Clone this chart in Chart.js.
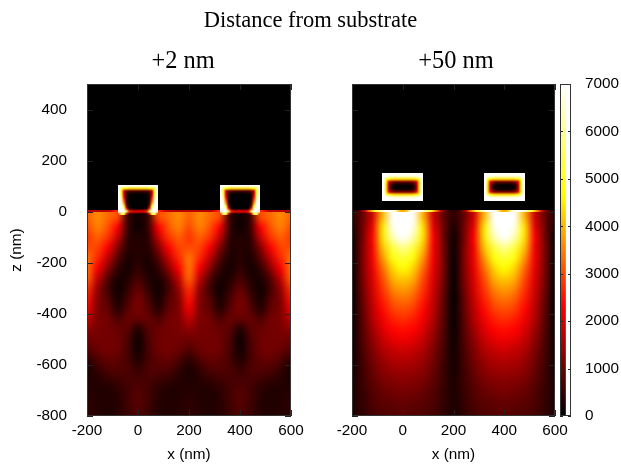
<!DOCTYPE html>
<html>
<head>
<meta charset="utf-8">
<title>Distance from substrate</title>
<script src="https://cdn.jsdelivr.net/npm/chart.js@4/dist/chart.umd.min.js"></script>
<style>
  html, body { margin: 0; padding: 0; background: #fff; overflow: hidden; }
  #page { position: relative; width: 621px; height: 464px; overflow: hidden; }
  #page canvas { position: absolute; top: 0; }
  .heading { position: absolute; text-align: center; color: #000; font-family: "Liberation Serif", serif; white-space: nowrap; }
  #mainTitle { left: 0; top: 7px; width: 621px; font-size: 22.5px; line-height: 26px; }
  #subLeft { left: 103px; top: 46px; width: 160px; font-size: 24.4px; line-height: 28px; }
  #subRight { left: 376px; top: 46px; width: 160px; font-size: 24.4px; line-height: 28px; }
</style>
</head>
<body>
<div id="page">
  <canvas id="left" width="330" height="464" style="left:0"></canvas>
  <canvas id="right" width="300" height="464" style="left:290px"></canvas>
  <canvas id="bar" width="81" height="464" style="left:540px"></canvas>
  <div class="heading" id="mainTitle">Distance from substrate</div>
  <div class="heading" id="subLeft">+2 nm</div>
  <div class="heading" id="subRight">+50 nm</div>
</div>
<script>
const colorbarTicks = [0, 7000];
const colorStops = ["#000000", "#ff0000", "#ffff00", "#ffffff"];

// substrate field, nm: one column every 40, one row every 40
const substrateX = [-200,-160,-120,-80,-40,0,40,80,120,160,200,240,280,320,360,400,440,480,520,560,600];
const substrateZ = [-20,-60,-100,-140,-180,-220,-260,-300,-340,-380,-420,-460,-500,-540,-580,-620,-660,-700,-740,-780];

const substrateLeft = [
  [3200,3600,3300,3000,500,150,500,3000,3300,3600,3200,3600,3300,3000,500,150,500,3000,3300,3600,3200],
  [3000,3500,3100,2300,500,100,500,2300,3100,3500,3000,3500,3100,2300,500,100,500,2300,3100,3500,3000],
  [2800,3200,2800,1800,400,300,400,1800,2800,3200,2800,3200,2800,1800,400,300,400,1800,2800,3200,2800],
  [3000,2950,2300,1200,350,350,350,1200,2300,2950,3000,2950,2300,1200,350,350,350,1200,2300,2950,3000],
  [3400,2700,1800,800,250,350,250,800,1800,2700,3400,2700,1800,800,250,350,250,800,1800,2700,3400],
  [3400,2300,1300,450,200,450,200,450,1300,2300,3400,2300,1300,450,200,450,200,450,1300,2300,3400],
  [3250,1800,800,250,300,650,300,250,800,1800,3250,1800,800,250,300,650,300,250,800,1800,3250],
  [2800,1400,600,150,450,900,450,150,600,1400,2800,1400,600,150,450,900,450,150,600,1400,2800],
  [2500,1200,800,200,650,1100,650,200,800,1200,2500,1200,800,200,650,1100,650,200,800,1200,2500],
  [2200,1150,900,350,800,1100,800,350,900,1150,2200,1150,900,350,800,1100,800,350,900,1150,2200],
  [1750,1150,1050,700,950,900,950,700,1050,1150,1750,1150,1050,700,950,900,950,700,1050,1150,1750],
  [1300,1100,1050,950,800,300,800,950,1050,1100,1300,1100,1050,950,800,300,800,950,1050,1100,1300],
  [1000,1050,1050,1000,700,120,700,1000,1050,1050,1000,1050,1050,1000,700,120,700,1000,1050,1050,1000],
  [750,950,1050,1000,650,150,650,1000,1050,950,750,950,1050,1000,650,150,650,1000,1050,950,750],
  [400,700,900,850,650,300,650,850,900,700,400,700,900,850,650,300,650,850,900,700,400],
  [250,450,700,750,700,500,700,750,700,450,250,450,700,750,700,500,700,750,700,450,250],
  [280,350,450,550,650,650,650,550,450,350,280,350,450,550,650,650,650,550,450,350,280],
  [350,300,300,400,600,750,600,400,300,300,350,300,300,400,600,750,600,400,300,300,350],
  [400,320,300,350,600,800,600,350,300,320,400,320,300,350,600,800,600,350,300,320,400],
  [430,340,300,350,550,750,550,350,300,340,430,340,300,350,550,750,550,350,300,340,430]
];

const substrateRight = [
  [400,900,1900,4000,7000,7000,7000,4000,1900,900,400,900,1900,4000,7000,7000,7000,4000,1900,900,400],
  [250,1000,2100,4400,6800,7000,6800,4400,2100,1000,250,1000,2100,4400,6800,7000,6800,4400,2100,1000,250],
  [120,1000,2300,4400,6300,7000,6300,4400,2300,1000,120,1000,2300,4400,6300,7000,6300,4400,2300,1000,120],
  [80,1100,2200,4100,5300,6000,5300,4100,2200,1100,80,1100,2200,4100,5300,6000,5300,4100,2200,1100,80],
  [60,1100,2200,3700,4800,5200,4800,3700,2200,1100,60,1100,2200,3700,4800,5200,4800,3700,2200,1100,60],
  [40,1100,2100,3300,4300,4700,4300,3300,2100,1100,40,1100,2100,3300,4300,4700,4300,3300,2100,1100,40],
  [40,1050,2000,3000,3950,4200,3950,3000,2000,1050,40,1050,2000,3000,3950,4200,3950,3000,2000,1050,40],
  [30,1000,1900,2800,3550,3800,3550,2800,1900,1000,30,1000,1900,2800,3550,3800,3550,2800,1900,1000,30],
  [30,900,1800,2600,3200,3400,3200,2600,1800,900,30,900,1800,2600,3200,3400,3200,2600,1800,900,30],
  [50,850,1700,2400,2900,3050,2900,2400,1700,850,50,850,1700,2400,2900,3050,2900,2400,1700,850,50],
  [60,800,1600,2200,2600,2750,2600,2200,1600,800,60,800,1600,2200,2600,2750,2600,2200,1600,800,60],
  [100,750,1450,2000,2350,2450,2350,2000,1450,750,100,750,1450,2000,2350,2450,2350,2000,1450,750,100],
  [120,700,1300,1800,2100,2200,2100,1800,1300,700,120,700,1300,1800,2100,2200,2100,1800,1300,700,120],
  [150,650,1150,1600,1800,1900,1800,1600,1150,650,150,650,1150,1600,1800,1900,1800,1600,1150,650,150],
  [170,600,1050,1400,1600,1650,1600,1400,1050,600,170,600,1050,1400,1600,1650,1600,1400,1050,600,170],
  [200,550,950,1250,1400,1450,1400,1250,950,550,200,550,950,1250,1400,1450,1400,1250,950,550,200],
  [230,550,850,1100,1200,1250,1200,1100,850,550,230,550,850,1100,1200,1250,1200,1100,850,550,230],
  [250,500,750,950,1050,1100,1050,950,750,500,250,500,750,950,1050,1100,1050,950,750,500,250],
  [270,480,700,850,900,950,900,850,700,480,270,480,700,850,900,950,900,850,700,480,270],
  [280,450,650,750,800,850,800,750,650,450,280,450,650,750,800,850,800,750,650,450,280]
];

// thin layer right at the interface, one column every 20 nm
const surfaceX = [-190,-170,-150,-130,-110,-90,-70,-50,-30,-10,10,30,50,70,90,110,130,150,170,190,210,230,250,270,290,310,330,350,370,390,410,430,450,470,490,510,530,550,570,590];
const surfaceLeft = [[1700,1700,1700,1700,1800,2500,3000,2200,2000,2000,2000,2000,2200,3000,2500,1800,1700,1700,1700,1700,1700,1700,1700,1700,1800,2500,3000,2200,2000,2000,2000,2000,2200,3000,2500,1800,1700,1700,1700,1700]];
const surfaceRight = [[400,800,1800,3500,5000,6000,7000,7000,6500,4000,4000,6500,7000,7000,6000,5000,3500,1800,800,400,400,800,1800,3500,5000,6000,7000,7000,6500,4000,4000,6500,7000,7000,6000,5000,3500,1800,800,400]];

// field around one wire, columns every 10 nm from the wire centre
const wireCentres = [0, 400];
const wireOffsets = [-75,-65,-55,-45,-35,-25,-15,-5,5,15,25,35,45,55,65,75];
const wireZLeft = [101,91,81,71,61,51,41,31,21,11,1,-9];
const wireLeft = [
  [7000,7000,7000,7000,7000,7000,7000,7000,7000,7000,7000,7000,7000,7000,7000,7000],
  [7000,5500,4700,4500,4300,4300,4300,4300,4300,4300,4300,4300,4500,4700,5500,7000],
  [7000,5000,2000,1100,900,800,800,800,800,800,800,900,1100,2000,5000,7000],
  [7000,5000,1800,500,200,100,80,80,80,80,100,200,500,1800,5000,7000],
  [7000,5500,2200,400,60,0,0,0,0,0,0,60,400,2200,5500,7000],
  [7000,6000,2700,400,40,0,0,0,0,0,0,40,400,2700,6000,7000],
  [7000,6500,3200,500,40,0,0,0,0,0,0,40,500,3200,6500,7000],
  [7000,7000,3800,700,60,0,0,0,0,0,0,60,700,3800,7000,7000],
  [7000,7000,5000,1300,100,0,0,0,0,0,0,100,1300,5000,7000,7000],
  [7000,7000,6500,2800,500,200,150,150,150,150,200,500,2800,6500,7000,7000],
  [7000,7000,7000,5500,2800,2400,2300,2300,2300,2300,2400,2800,5500,7000,7000,7000],
  [3000,5500,5000,1800,500,300,200,200,200,200,300,500,1800,5000,5500,3000]
];
const wireZRight = [147,137,127,117,107,97,87,77,67,57,47];
const wireRight = [
  [7000,7000,7000,7000,7000,7000,7000,7000,7000,7000,7000,7000,7000,7000,7000,7000],
  [7000,6800,6500,6300,6300,6300,6300,6300,6300,6300,6300,6300,6300,6500,6800,7000],
  [7000,5000,4500,4300,4200,4200,4200,4200,4200,4200,4200,4200,4300,4500,5000,7000],
  [7000,4500,2200,1500,1200,1100,1100,1100,1100,1100,1100,1200,1500,2200,4500,7000],
  [7000,4300,1700,600,300,200,150,150,150,150,200,300,600,1700,4300,7000],
  [7000,4300,1600,400,100,50,30,30,30,30,50,100,400,1600,4300,7000],
  [7000,4300,1700,600,300,200,150,150,150,150,200,300,600,1700,4300,7000],
  [7000,4500,2500,1600,1300,1200,1200,1200,1200,1200,1200,1300,1600,2500,4500,7000],
  [7000,5500,4800,4500,4300,4300,4300,4300,4300,4300,4300,4300,4500,4800,5500,7000],
  [7000,7000,6800,6500,6500,6500,6500,6500,6500,6500,6500,6500,6500,6800,7000,7000],
  [7000,7000,7000,7000,7000,7000,7000,7000,7000,7000,7000,7000,7000,7000,7000,7000]
];

const tickFont = { family: "'Liberation Sans', Arial, sans-serif", size: 15.3 };
const COLOR_MAX = colorbarTicks[1];

function clamp01(t) { return Math.max(0, Math.min(1, t)); }

function hot(v) {
  const t = clamp01(v / COLOR_MAX);
  return [255 * clamp01(3 * t), 255 * clamp01(3 * t - 1), 255 * clamp01(3 * t - 2)];
}

function layer(label, xs, zs, rows, cellX, cellZ) {
  const data = [];
  zs.forEach((z, r) => xs.forEach((x, c) => data.push({ x: x, y: z, v: rows[r][c] })));
  return { label, data, xs, zs, cellX, cellZ, pointRadius: 0, pointHoverRadius: 0 };
}

function drawLayer(chart, ds) {
  const cols = ds.xs.length, rows = ds.zs.length;
  const off = document.createElement("canvas");
  off.width = cols;
  off.height = rows;
  const octx = off.getContext("2d");
  const img = octx.createImageData(cols, rows);
  ds.data.forEach((p, i) => {
    const c = hot(p.v);
    img.data.set([c[0], c[1], c[2], 255], i * 4);
  });
  octx.putImageData(img, 0, 0);

  const sx = chart.scales.x, sy = chart.scales.y;
  const x0 = sx.getPixelForValue(ds.xs[0] - ds.cellX / 2);
  const x1 = sx.getPixelForValue(ds.xs[cols - 1] + ds.cellX / 2);
  const y0 = sy.getPixelForValue(ds.zs[0] + ds.cellZ / 2);
  const y1 = sy.getPixelForValue(ds.zs[rows - 1] - ds.cellZ / 2);
  const ctx = chart.ctx;
  ctx.imageSmoothingEnabled = true;
  ctx.imageSmoothingQuality = "high";
  ctx.drawImage(off, x0, y0, x1 - x0, y1 - y0);
}

function inwardTicks(chart, len, barOnly) {
  const ctx = chart.ctx, a = chart.chartArea;
  ctx.strokeStyle = "#222";
  ctx.lineWidth = 1;
  ctx.beginPath();
  chart.scales.y.ticks.forEach(t => {
    const y = Math.round(chart.scales.y.getPixelForValue(t.value)) + 0.5;
    ctx.moveTo(a.left, y); ctx.lineTo(a.left + len, y);
    ctx.moveTo(a.right, y); ctx.lineTo(a.right - len, y);
  });
  if (!barOnly) {
    chart.scales.x.ticks.forEach(t => {
      const x = Math.round(chart.scales.x.getPixelForValue(t.value)) + 0.5;
      ctx.moveTo(x, a.bottom); ctx.lineTo(x, a.bottom - len);
      ctx.moveTo(x, a.top); ctx.lineTo(x, a.top + len);
    });
  }
  ctx.stroke();
  ctx.strokeStyle = "#333";
  ctx.strokeRect(a.left + 0.5, a.top + 0.5, a.right - a.left - 1, a.bottom - a.top - 1);
}

const heatmapPlugin = {
  id: "heatmap",
  beforeDatasetsDraw(chart) {
    const a = chart.chartArea, ctx = chart.ctx;
    ctx.save();
    ctx.beginPath();
    ctx.rect(a.left, a.top, a.right - a.left, a.bottom - a.top);
    ctx.clip();
    ctx.fillStyle = "#000";
    ctx.fillRect(a.left, a.top, a.right - a.left, a.bottom - a.top);
    chart.data.datasets.forEach(ds => drawLayer(chart, ds));
    ctx.restore();
  },
  afterDatasetsDraw(chart) {
    inwardTicks(chart, 6, false);
  }
};

function panelChart(id, datasets, opts) {
  return new Chart(document.getElementById(id), {
    type: "scatter",
    data: { datasets },
    plugins: [heatmapPlugin],
    options: {
      responsive: false,
      animation: false,
      events: [],
      layout: { padding: { left: 0, right: opts.padRight, top: 84, bottom: 0 } },
      plugins: { legend: { display: false }, tooltip: { enabled: false } },
      scales: {
        x: {
          type: "linear", min: -200, max: 600,
          grid: { display: false, drawTicks: false }, border: { display: false },
          ticks: { stepSize: 200, color: "#000", font: tickFont, padding: 6, maxRotation: 0 },
          title: { display: true, text: "x (nm)", color: "#000", font: tickFont, padding: { top: 0, bottom: 0 } },
          afterFit(s) { s.height = 48; }
        },
        y: {
          type: "linear", min: -800, max: 500,
          grid: { display: false, drawTicks: false }, border: { display: false },
          ticks: { stepSize: 200, includeBounds: false, display: opts.showY, color: "#000", font: tickFont, padding: 20 },
          title: { display: opts.showY, text: "z (nm)", color: "#000", font: tickFont, padding: { top: 8, bottom: 0 } },
          afterFit(s) { s.width = opts.axisWidth; }
        }
      }
    }
  });
}

panelChart("left", [
  layer("substrate", substrateX, substrateZ, substrateLeft, 40, 40),
  layer("surface", surfaceX, [2.5], surfaceLeft, 20, 5),
  layer("wire 1", wireOffsets.map(d => d + wireCentres[0]), wireZLeft, wireLeft, 10, 10),
  layer("wire 2", wireOffsets.map(d => d + wireCentres[1]), wireZLeft, wireLeft, 10, 10)
], { showY: true, axisWidth: 87, padRight: 39 });

panelChart("right", [
  layer("substrate", substrateX, substrateZ, substrateRight, 40, 40),
  layer("surface", surfaceX, [2.5], surfaceRight, 20, 7),
  layer("wire 1", wireOffsets.map(d => d + wireCentres[0]), wireZRight, wireRight, 10, 10),
  layer("wire 2", wireOffsets.map(d => d + wireCentres[1]), wireZRight, wireRight, 10, 10)
], { showY: false, axisWidth: 62, padRight: 35 });

new Chart(document.getElementById("bar"), {
  type: "bar",
  data: {
    labels: ["field"],
    datasets: [{
      data: [colorbarTicks],
      barPercentage: 1,
      categoryPercentage: 1,
      backgroundColor(c) {
        const a = c.chart.chartArea;
        if (!a) return colorStops[0];
        const g = c.chart.ctx.createLinearGradient(0, a.bottom, 0, a.top);
        colorStops.forEach((col, i) => g.addColorStop(i / (colorStops.length - 1), col));
        return g;
      }
    }]
  },
  plugins: [{
    id: "barFrame",
    afterDatasetsDraw(chart) { inwardTicks(chart, 3, true); }
  }],
  options: {
    responsive: false,
    animation: false,
    events: [],
    layout: { padding: { left: 20, right: 0, top: 84, bottom: 48 } },
    plugins: { legend: { display: false }, tooltip: { enabled: false } },
    scales: {
      x: { display: false, offset: false },
      y: {
        position: "right", min: colorbarTicks[0], max: colorbarTicks[1],
        grid: { display: false, drawTicks: false }, border: { display: false },
        ticks: { stepSize: 1000, color: "#000", font: tickFont, padding: 14, callback: v => String(v) },
        afterFit(s) { s.width = 50; }
      }
    }
  }
});
</script>
</body>
</html>
